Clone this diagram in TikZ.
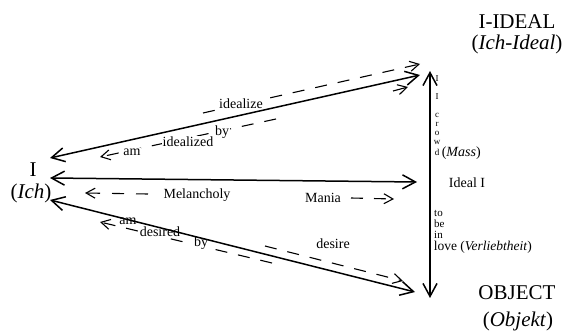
\documentclass[tikz,border=0pt]{standalone}
\usepackage{fontspec}
\setmainfont{Liberation Serif}
\usetikzlibrary{arrows.meta}
\begin{document}
\begin{tikzpicture}[x=1pt,y=-1pt,
  big/.style={font=\fontsize{21}{23}\selectfont, inner sep=0pt},
  mid/.style={font=\fontsize{14}{16}\selectfont, inner sep=0.6pt},
  midw/.style={mid, fill=white},
  small/.style={font=\fontsize{11}{11}\selectfont, inner sep=0pt},
  tiny/.style={font=\fontsize{9}{9}\selectfont, inner sep=0pt},
  barb/.tip={Straight Barb[length=13pt,width=14pt]},
  sbarb/.tip={Straight Barb[length=9pt,width=10pt]},
  solidarrow/.style={line width=1.5pt, barb-barb},
  dasharrow/.style={line width=1.1pt, dash pattern=on 12pt off 11pt},
]
\useasboundingbox (0,0) rectangle (566,331);
% labels
\node[big] (I) at (33,170) {I};
\node[big] (Ich) at (31,193) {(\textit{Ich})};
\node[big] (ideal) at (517,22) {I-IDEAL};
\node[big] (ichideal) at (517,44) {(\textit{Ich-Ideal})};
\node[big] (object) at (517,293) {OBJECT};
\node[big] (objekt) at (518,321) {(\textit{Objekt})};
% coordinates
\coordinate (topL) at (50,158);
\coordinate (topR) at (420,75);
\coordinate (midL) at (50,178);
\coordinate (midR) at (417,182);
\coordinate (botL) at (50,200);
\coordinate (botR) at (415,292);
\coordinate (vT) at (430,71);
\coordinate (vB) at (430,298);
% dashed: idealize
\coordinate (idS) at (203,113);
\coordinate (idE) at (420,64);
\draw[dasharrow, -sbarb] (idS) -- (idE);
\node[midw] (idealize) at (241,104) {idealize};
% dashed: am idealized by
\coordinate (aiS) at (276,119);
\coordinate (aiE) at (100,157);
\draw[dasharrow, -sbarb] (aiS) -- (aiE);
\coordinate (aiR1) at (393,91);
\coordinate (aiR2) at (408,87);
\draw[line width=1.1pt, -sbarb] (aiR1) -- (aiR2);
\node[midw] (am1) at (132,152) {am};
\node[midw] (idealized) at (188,142) {idealized};
\node[midw] (by1) at (222,132) {by};
% dashed: melancholy / mania
\node[mid] (melancholy) at (197,195) {Melancholy};
\node[mid] (mania) at (323,198) {Mania};
\coordinate (meS) at (148,194);
\coordinate (mdL) at (85,193);
\coordinate (maS) at (351,198);
\coordinate (mdR) at (394,199);
\draw[dasharrow, dash pattern=on 12pt off 12pt, -sbarb] (meS) -- (mdL);
\draw[dasharrow, -sbarb] (maS) -- (mdR);
% dashed: am desired by
\coordinate (adS) at (272,263);
\coordinate (adE) at (100,222);
\draw[dasharrow, -sbarb] (adS) -- (adE);
\node[midw] (am2) at (128,221) {am};
\node[midw] (desired) at (160,232) {desired};
\node[midw] (by2) at (201,243) {by};
% dashed: desire
\coordinate (deS) at (265,246);
\coordinate (deE) at (403,281);
\draw[dasharrow, -sbarb] (deS) -- (deE);
\node[mid] (desire) at (333,244) {desire};
% solid arrows
\draw[solidarrow] (topL) -- (topR);
\draw[solidarrow] (midL) -- (midR);
\draw[solidarrow] (botL) -- (botR);
\draw[solidarrow] (vT) -- (vB);
% vertical texts
\node[tiny] (v1) at (437,79) {I};
\node[tiny] (v2) at (437,97) {I};
\node[tiny] (c1) at (437,115) {c};
\node[tiny] (c2) at (437,124) {r};
\node[tiny] (c3) at (437,133) {o};
\node[tiny] (c4) at (437,142) {w};
\node[tiny] (c5) at (437,152) {d};
\node[mid, anchor=west] (mass) at (441,153) {(\textit{Mass})};
\node[mid] (idealI) at (467,183) {Ideal I};
\node[small, anchor=west] (to) at (434,213) {to};
\node[small, anchor=west] (be) at (434,224) {be};
\node[small, anchor=west] (in) at (434,235) {in};
\node[mid, anchor=west, font=\fontsize{13.5}{15}\selectfont] (love) at (433,247) {love (\textit{Verliebtheit})};
\end{tikzpicture}
\end{document}
